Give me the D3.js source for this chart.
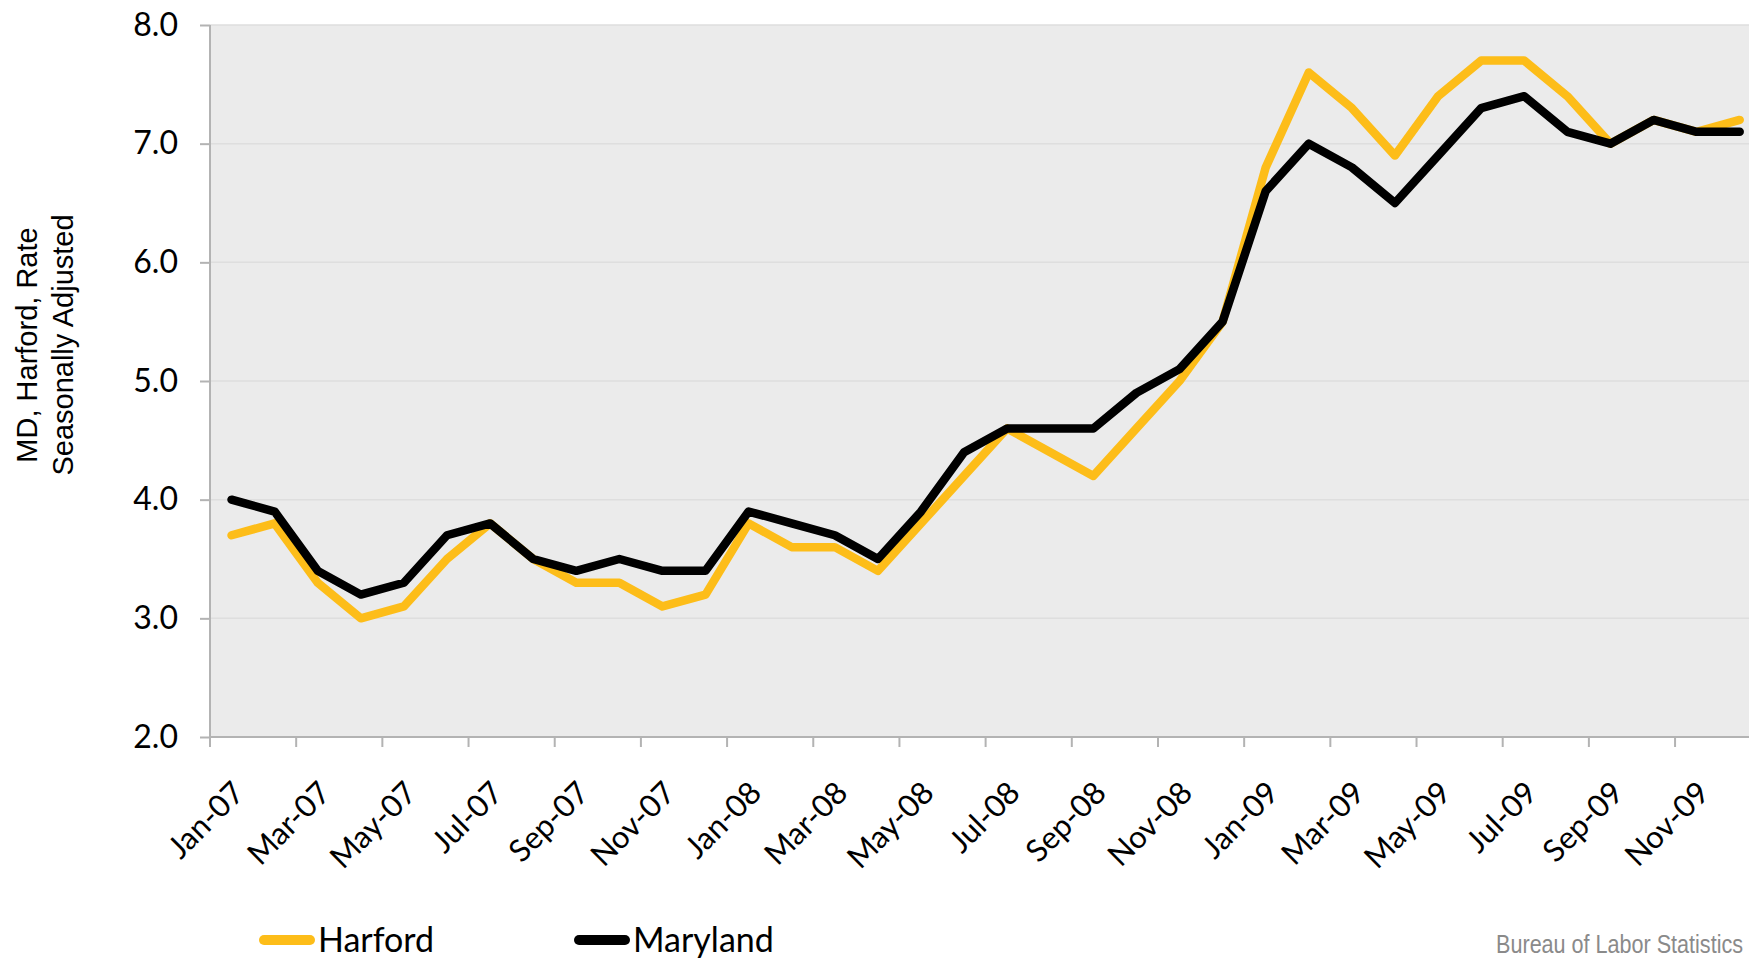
<!DOCTYPE html>
<html><head><meta charset="utf-8">
<script src="https://cdn.jsdelivr.net/npm/d3@7"></script>
<style>body{margin:0;background:#fff}svg{display:block}</style>
</head><body>
<svg id="chart" width="1749" height="958"></svg>
<script>
const months = ["Jan-07","Feb-07","Mar-07","Apr-07","May-07","Jun-07","Jul-07","Aug-07","Sep-07","Oct-07","Nov-07","Dec-07",
"Jan-08","Feb-08","Mar-08","Apr-08","May-08","Jun-08","Jul-08","Aug-08","Sep-08","Oct-08","Nov-08","Dec-08",
"Jan-09","Feb-09","Mar-09","Apr-09","May-09","Jun-09","Jul-09","Aug-09","Sep-09","Oct-09","Nov-09","Dec-09"];
const harford = [3.7,3.8,3.3,3.0,3.1,3.5,3.8,3.5,3.3,3.3,3.1,3.2,
3.8,3.6,3.6,3.4,3.8,4.2,4.6,4.4,4.2,4.6,5.0,5.5,
6.8,7.6,7.3,6.9,7.4,7.7,7.7,7.4,7.0,7.2,7.1,7.2];
const maryland = [4.0,3.9,3.4,3.2,3.3,3.7,3.8,3.5,3.4,3.5,3.4,3.4,
3.9,3.8,3.7,3.5,3.9,4.4,4.6,4.6,4.6,4.9,5.1,5.5,
6.6,7.0,6.8,6.5,6.9,7.3,7.4,7.1,7.0,7.2,7.1,7.1];
const yTicks = [2,3,4,5,6,7,8];
const seriesNames = ["Harford","Maryland"];
const seriesColors = ["#FDBD19","#000000"];
const yTitle = ["MD, Harford, Rate","Seasonally Adjusted"];
const source = "Bureau of Labor Statistics";

(function(){
const svg = d3.select("#chart");
const W = 1749, mLeft = 210, mTop = 25, mBottom = 737;
const x = d3.scaleBand().domain(months).range([mLeft, mLeft + 36*43.09]).padding(0);
const y = d3.scaleLinear().domain([2,8]).range([mBottom, mTop]);
const tickFont = "Futura, 'Century Gothic', Lato, sans-serif";

svg.append("rect").attr("x", mLeft).attr("y", mTop).attr("width", W-mLeft).attr("height", mBottom-mTop).attr("fill","#ebebeb");

// gridlines
svg.append("g").selectAll("line").data(yTicks.filter(d=>d>2)).join("line")
  .attr("x1", mLeft).attr("x2", W).attr("y1", d=>y(d)).attr("y2", d=>y(d))
  .attr("stroke","#dedede").attr("stroke-width",1.5);

// y axis
const yAxis = svg.append("g").attr("transform",`translate(${mLeft},0)`)
  .call(d3.axisLeft(y).tickValues(yTicks).tickFormat(d3.format(".1f")).tickSize(10).tickPadding(22));
yAxis.select(".domain").remove();
yAxis.selectAll(".tick line").attr("stroke","#b3b3b3").attr("stroke-width",2);
yAxis.selectAll(".tick text").attr("font-family",tickFont).attr("font-size",32).attr("fill","#000");
svg.append("line").attr("x1",mLeft).attr("x2",mLeft).attr("y1",mTop).attr("y2",mBottom+10).attr("stroke","#b3b3b3").attr("stroke-width",2);

// x axis
svg.append("line").attr("x1",mLeft).attr("x2",W).attr("y1",mBottom).attr("y2",mBottom).attr("stroke","#b3b3b3").attr("stroke-width",2);
const shown = months.filter((d,i)=>i%2===0);
svg.append("g").selectAll("line").data(shown).join("line")
  .attr("x1", d=>x(d)).attr("x2", d=>x(d)).attr("y1", mBottom).attr("y2", mBottom+10)
  .attr("stroke","#b3b3b3").attr("stroke-width",2);
svg.append("g").selectAll("text").data(shown).join("text")
  .attr("transform", d=>`translate(${x(d)+x.bandwidth()/2+7},${mBottom+50}) rotate(-45)`)
  .attr("text-anchor","end").attr("dy","0.35em")
  .attr("font-family",tickFont).attr("font-size",31).attr("fill","#000")
  .text(d=>d);

// lines
const line = d3.line().x((d,i)=>x(months[i])+x.bandwidth()/2).y(d=>y(d));
[harford, maryland].forEach((vals,k)=>{
  svg.append("path").datum(vals).attr("d",line).attr("fill","none")
    .attr("stroke",seriesColors[k]).attr("stroke-width",8.5)
    .attr("stroke-linejoin","round").attr("stroke-linecap","round");
});

// y title
const yt = svg.append("text").attr("transform","translate(37,345) rotate(-90)")
  .attr("text-anchor","middle").attr("font-family","'Liberation Sans', Arial, sans-serif").attr("font-size",29).attr("fill","#000");
yt.append("tspan").attr("x",0).attr("y",0).text(yTitle[0]);
yt.append("tspan").attr("x",0).attr("y",36).text(yTitle[1]);

// legend
const legX = [259, 574];
seriesNames.forEach((n,k)=>{
  svg.append("line").attr("x1",legX[k]+5).attr("x2",legX[k]+51).attr("y1",940).attr("y2",940)
    .attr("stroke",seriesColors[k]).attr("stroke-width",10).attr("stroke-linecap","round");
  svg.append("text").attr("x",legX[k]+59).attr("y",940).attr("dy","0.35em")
    .attr("font-family",tickFont).attr("font-size",34).attr("fill","#000").text(n);
});

// source
svg.append("text").attr("transform","translate(1743,953) scale(0.83,1)").attr("text-anchor","end")
  .attr("font-family","'Liberation Sans', Arial, sans-serif").attr("font-size",26).attr("fill","#8a8a8a").text(source);
})();
</script>
</body></html>
